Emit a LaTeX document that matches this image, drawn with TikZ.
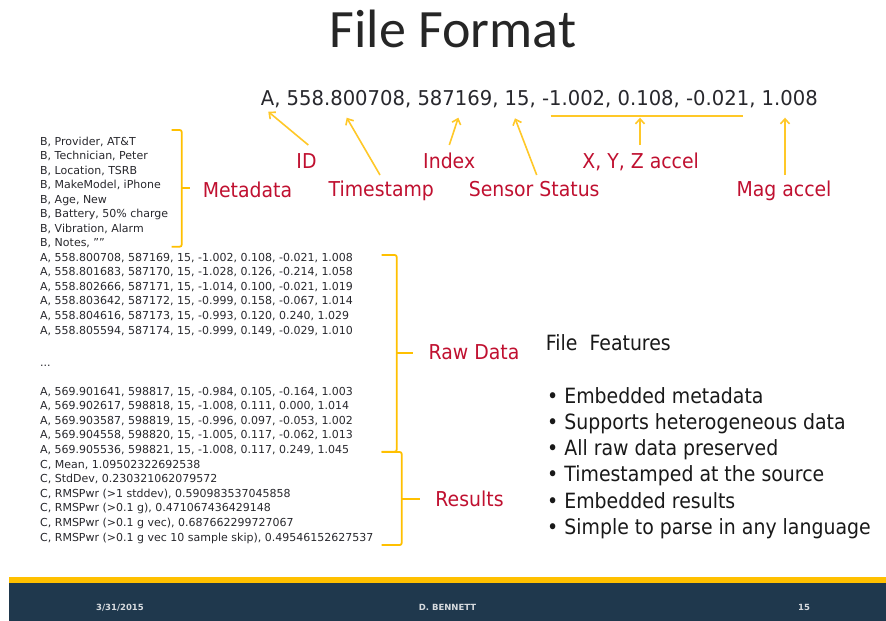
\documentclass[tikz,border=0pt]{standalone}
\usepackage{fontspec}
\setmainfont{DejaVu Sans}
\newfontfamily\labfont[FakeStretch=0.92]{DejaVu Sans}
\newfontfamily\featfont[FakeStretch=0.9]{DejaVu Sans}
\newfontfamily\linefont[FakeStretch=0.96]{DejaVu Sans}
\newfontfamily\titlefont{Carlito}
\usetikzlibrary{arrows.meta}
\definecolor{gold}{RGB}{255,192,0}
\definecolor{arrowgold}{RGB}{255,200,40}
\definecolor{labred}{RGB}{192,16,48}
\definecolor{navy}{RGB}{31,56,77}
\definecolor{txt}{RGB}{40,40,45}
\begin{document}
\begin{tikzpicture}[x=1pt,y=-1pt,
 small/.style={anchor=base west,inner sep=0pt,font=\fontsize{11}{13}\selectfont,text=txt},
 lab/.style={anchor=base,inner sep=0pt,font=\labfont\fontsize{20.5}{24}\selectfont,text=labred},
 feat/.style={anchor=base west,inner sep=0pt,font=\featfont\fontsize{21}{25}\selectfont,text=black!90},
 brace/.style={draw=gold,line width=1.8pt,rounded corners=2pt},
 arr/.style={draw=arrowgold,line width=1.6pt,-{Straight Barb[length=5pt,width=9pt]}},
 foot/.style={anchor=base,inner sep=0pt,font=\bfseries\fontsize{8.5}{10}\selectfont,text=white!82!navy}]
\useasboundingbox (0,0) rectangle (886,621);
\fill[white] (0,0) rectangle (886,621);

% title
\node[anchor=base,inner sep=0pt,font=\titlefont\fontsize{54}{60}\selectfont,text=black!85] (title) at (453,47) {File Format};

% example record
\node[anchor=base west,inner sep=0pt,font=\linefont\fontsize{20.4}{24}\selectfont,text=txt] (rec) at (260.7,105) {A, 558.800708, 587169, 15, -1.002, 0.108, -0.021, 1.008};

% labels
\node[lab] (idl) at (306.5,168.3) {ID};
\node[lab] (indexl) at (449.2,168.3) {Index};
\node[lab] (xyzl) at (640.7,168.3) {X, Y, Z accel};
\node[lab] (metal) at (247.5,197.5) {Metadata};
\node[lab] (tsl) at (381.3,196.7) {Timestamp};
\node[lab] (ssl) at (534.2,196.7) {Sensor Status};
\node[lab] (magl) at (784,196.7) {Mag accel};
\node[lab] (rawl) at (474,359.3) {Raw Data};
\node[lab] (resl) at (469.5,506) {Results};

% arrow end points
\coordinate (idT) at (308.3,145);   \coordinate (idH) at (268.3,111.7);
\coordinate (tsT) at (380,175);     \coordinate (tsH) at (346.7,117.7);
\coordinate (ixT) at (449.3,145);   \coordinate (ixH) at (458.3,117.7);
\coordinate (ssT) at (536.7,175);   \coordinate (ssH) at (515,118.3);
\coordinate (xyT) at (640,145);     \coordinate (xyH) at (640,117.7);
\coordinate (mgT) at (785,175);     \coordinate (mgH) at (785,117.7);
\coordinate (ulA) at (550.7,115.7); \coordinate (ulB) at (743.3,115.7);

\draw[arr] (idT) -- (idH);
\draw[arr] (tsT) -- (tsH);
\draw[arr] (ixT) -- (ixH);
\draw[arr] (ssT) -- (ssH);
\draw[arr] (xyT) -- (xyH);
\draw[arr] (mgT) -- (mgH);
\draw[draw=arrowgold,line width=1.6pt] (ulA) -- (ulB);

% brackets
\draw[brace] (171.7,130) -- (181.7,130) -- (181.7,246.7) -- (171.7,246.7);
\draw[brace] (181.7,188.3) -- (190,188.3);
\draw[brace] (381.7,255) -- (396.7,255) -- (396.7,451.7) -- (381.7,451.7);
\draw[brace] (396.7,353.3) -- (413.3,353.3);
\draw[brace] (381.7,452) -- (401.7,452) -- (401.7,545) -- (381.7,545);
\draw[brace] (401.7,499.3) -- (420,499.3);

% metadata lines
\node[small] (m1) at (40,145) {B, Provider, AT\&T};
\node[small] (m2) at (40,159.5) {B, Technician, Peter};
\node[small] (m3) at (40,174) {B, Location, TSRB};
\node[small] (m4) at (40,188.5) {B, MakeModel, iPhone};
\node[small] (m5) at (40,203) {B, Age, New};
\node[small] (m6) at (40,217.5) {B, Battery, 50\% charge};
\node[small] (m7) at (40,232) {B, Vibration, Alarm};
\node[small] (m8) at (40,246.5) {B, Notes, ""};

% raw data
\node[small] (r1) at (40,261) {A, 558.800708, 587169, 15, -1.002, 0.108, -0.021, 1.008};
\node[small] (r2) at (40,275.6) {A, 558.801683, 587170, 15, -1.028, 0.126, -0.214, 1.058};
\node[small] (r3) at (40,290.2) {A, 558.802666, 587171, 15, -1.014, 0.100, -0.021, 1.019};
\node[small] (r4) at (40,304.8) {A, 558.803642, 587172, 15, -0.999, 0.158, -0.067, 1.014};
\node[small] (r5) at (40,319.4) {A, 558.804616, 587173, 15, -0.993, 0.120, 0.240, 1.029};
\node[small] (r6) at (40,334) {A, 558.805594, 587174, 15, -0.999, 0.149, -0.029, 1.010};
\node[small] (dots) at (40,366) {...};
\node[small] (s1) at (40,395) {A, 569.901641, 598817, 15, -0.984, 0.105, -0.164, 1.003};
\node[small] (s2) at (40,409.6) {A, 569.902617, 598818, 15, -1.008, 0.111, 0.000, 1.014};
\node[small] (s3) at (40,424.2) {A, 569.903587, 598819, 15, -0.996, 0.097, -0.053, 1.002};
\node[small] (s4) at (40,438.8) {A, 569.904558, 598820, 15, -1.005, 0.117, -0.062, 1.013};
\node[small] (s5) at (40,453.4) {A, 569.905536, 598821, 15, -1.008, 0.117, 0.249, 1.045};

% results
\node[small] (c1) at (40,468) {C, Mean, 1.09502322692538};
\node[small] (c2) at (40,482.6) {C, StdDev, 0.230321062079572};
\node[small] (c3) at (40,497.2) {C, RMSPwr (>1 stddev), 0.590983537045858};
\node[small] (c4) at (40,511.8) {C, RMSPwr (>0.1 g), 0.471067436429148};
\node[small] (c5) at (40,526.4) {C, RMSPwr (>0.1 g vec), 0.687662299727067};
\node[small] (c6) at (40,541) {C, RMSPwr (>0.1 g vec 10 sample skip), 0.49546152627537};

% file features
\node[feat] (ffh) at (545.7,350) {File\ \ Features};
\node[feat] (f1) at (547,403.3) {\textbullet\ Embedded metadata};
\node[feat] (f2) at (547,429.5) {\textbullet\ Supports heterogeneous data};
\node[feat] (f3) at (547,455.7) {\textbullet\ All raw data preserved};
\node[feat] (f4) at (547,481.9) {\textbullet\ Timestamped at the source};
\node[feat] (f5) at (547,508.1) {\textbullet\ Embedded results};
\node[feat] (f6) at (547,534.3) {\textbullet\ Simple to parse in any language};

% footer
\fill[gold] (9.3,577.3) rectangle (886,583.3);
\fill[navy] (9.3,583.3) rectangle (886,621);
\node[foot] (fdate) at (120,610) {3/31/2015};
\node[foot] (fauth) at (447.5,610) {D. BENNETT};
\node[foot] (fpage) at (804,610) {15};
\end{tikzpicture}
\end{document}
